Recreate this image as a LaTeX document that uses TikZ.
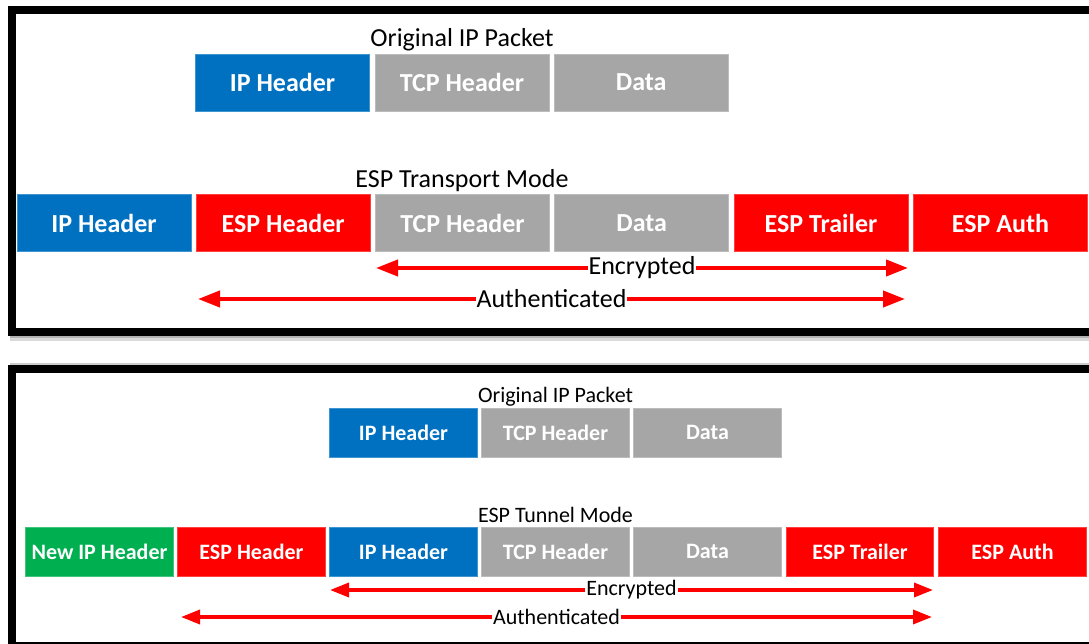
\documentclass[tikz,border=0pt]{standalone}
\usepackage{fontspec}
\setmainfont{Carlito}
\usetikzlibrary{arrows.meta}
\definecolor{ipblue}{HTML}{0070C0}
\definecolor{tcpgray}{HTML}{A6A6A6}
\definecolor{espred}{HTML}{FF0000}
\definecolor{newgreen}{HTML}{00B050}
\tikzset{
  pktA/.style={minimum width=174pt, minimum height=57pt, inner sep=0pt, text=white,
    font=\fontsize{26}{28}\selectfont\bfseries, line width=0.9pt},
  pktB/.style={minimum width=147.5pt, minimum height=49pt, inner sep=0pt, text=white,
    font=\fontsize{22}{24}\selectfont\bfseries, line width=0.9pt},
  blueb/.style={fill=ipblue, draw=ipblue!75!white},
  grayb/.style={fill=tcpgray, draw=tcpgray!75!white},
  redb/.style={fill=espred, draw=espred!75!white},
  greenb/.style={fill=newgreen, draw=newgreen!75!white},
  titleA/.style={font=\fontsize{26}{28}\selectfont, inner sep=0pt},
  titleB/.style={font=\fontsize{22}{24}\selectfont, inner sep=0pt},
  arrA/.style={draw=espred, line width=4pt, {Triangle[length=22pt,width=16pt]}-{Triangle[length=22pt,width=16pt]}},
  arrB/.style={draw=espred, line width=3.5pt, {Triangle[length=19pt,width=14pt]}-{Triangle[length=19pt,width=14pt]}},
  lblA/.style={fill=white, inner xsep=1pt, inner ysep=0pt, font=\fontsize{26}{28}\selectfont, text=black},
  lblB/.style={fill=white, inner xsep=1pt, inner ysep=0pt, font=\fontsize{22}{24}\selectfont, text=black},
  frame/.style={draw=black, line width=8pt}
}
\begin{document}
\begin{tikzpicture}[x=1pt,y=-1pt]
\useasboundingbox (0,0) rectangle (1089,644);
\clip (0,0) rectangle (1089,644);
\fill[white] (0,0) rectangle (1089,644);

% ---------- top panel ----------
\fill[black!30] (10,335) rectangle (1100,338);
\fill[black!15] (10,338) rectangle (1100,341);
\draw[frame] (1100,10) -- (12,10) -- (12,331.5) -- (1100,331.5);

\node[titleA] (t1) at (462,40) {Original IP Packet};
\node[pktA,blueb] (a1) at (282.5,82.5) {IP Header};
\node[pktA,grayb] (a2) at (462,82.5) {TCP Header};
\node[pktA,grayb] (a3) at (641.2,82.5) {Data};

\node[titleA] (t2) at (462,181) {ESP Transport Mode};
\node[pktA,blueb] (b1) at (104,223) {IP Header};
\node[pktA,redb]  (b2) at (283.2,223) {ESP Header};
\node[pktA,grayb] (b3) at (462.5,223) {TCP Header};
\node[pktA,grayb] (b4) at (641.7,223) {Data};
\node[pktA,redb]  (b5) at (821,223) {ESP Trailer};
\node[pktA,redb]  (b6) at (1000.5,223) {ESP Auth};

\coordinate (e1a) at (376,268);
\coordinate (e1b) at (908,268);
\coordinate (u1a) at (198,299);
\coordinate (u1b) at (905,299);
\draw[arrA] (e1a) -- node[lblA] (el1) {Encrypted} (e1b);
\draw[arrA] (u1a) -- node[lblA] (ul1) {Authenticated} (u1b);

% ---------- bottom panel ----------
\fill[black!20] (10,363) rectangle (1100,365);
\draw[frame] (1100,369) -- (12,369) -- (12,646) -- (1100,646);

\node[titleB] (t3) at (555.5,396.5) {Original IP Packet};
\node[pktB,blueb] (c1) at (403.5,432.5) {IP Header};
\node[pktB,grayb] (c2) at (555.5,432.5) {TCP Header};
\node[pktB,grayb] (c3) at (707.5,432.5) {Data};

\node[titleB] (t4) at (555.5,514.5) {ESP Tunnel Mode};
\node[pktB,greenb] (d1) at (99.5,551.5) {New IP Header};
\node[pktB,redb]   (d2) at (251.5,551.5) {ESP Header};
\node[pktB,blueb]  (d3) at (403.5,551.5) {IP Header};
\node[pktB,grayb]  (d4) at (555.5,551.5) {TCP Header};
\node[pktB,grayb]  (d5) at (707.5,551.5) {Data};
\node[pktB,redb]   (d6) at (860,551.5) {ESP Trailer};
\node[pktB,redb]   (d7) at (1012.5,551.5) {ESP Auth};

\coordinate (e2a) at (330,590);
\coordinate (e2b) at (933,590);
\coordinate (u2a) at (181,617);
\coordinate (u2b) at (932,617);
\draw[arrB] (e2a) -- node[lblB] (el2) {Encrypted} (e2b);
\draw[arrB] (u2a) -- node[lblB] (ul2) {Authenticated} (u2b);
\end{tikzpicture}
\end{document}
